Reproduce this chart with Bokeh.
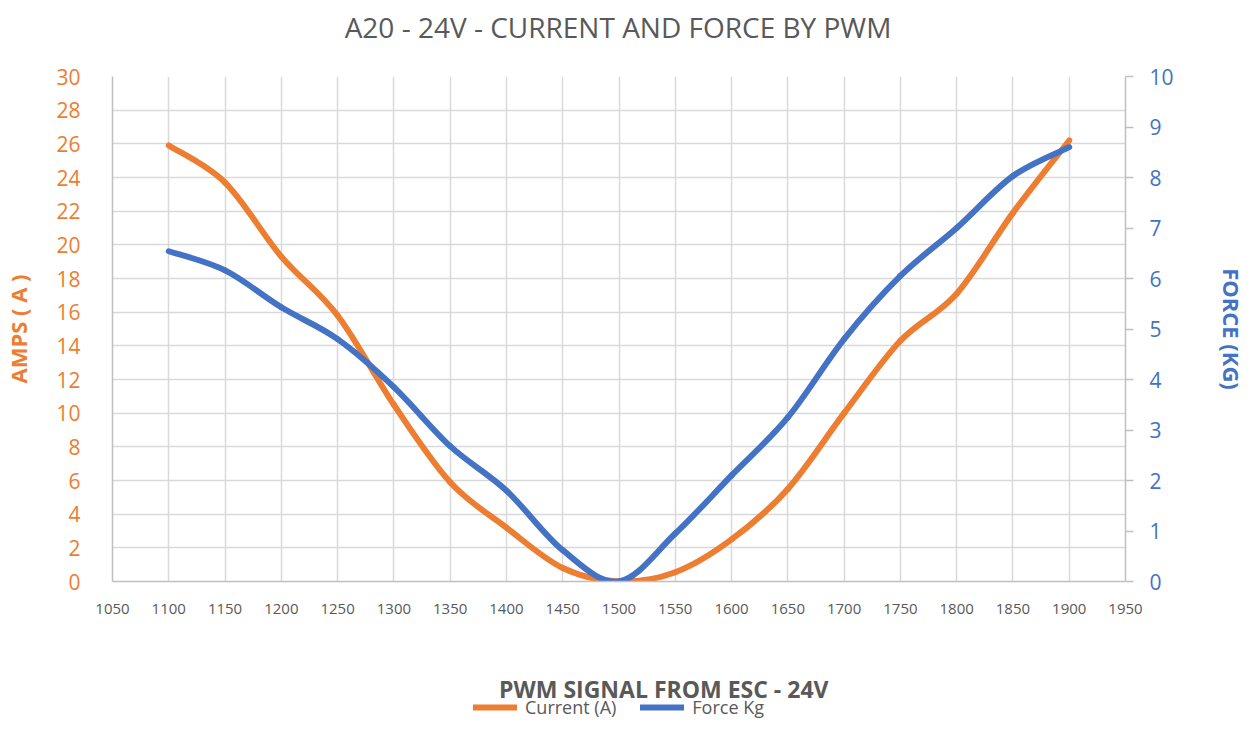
from bokeh.plotting import figure
from bokeh.layouts import column
from bokeh.models import (Range1d, LinearAxis, FixedTicker, Legend, LegendItem,
                          ColumnDataSource, Label)
from bokeh.embed import file_html
from bokeh.resources import INLINE

# PWM signal (µs) and the measured values at each setting
pwm = [1100, 1150, 1200, 1250, 1300, 1350, 1400, 1450, 1500,
       1550, 1600, 1650, 1700, 1750, 1800, 1850, 1900]
current_a = [25.9, 23.7, 19.3, 15.8, 10.5, 5.9, 3.2, 0.8, 0.0,
             0.55, 2.5, 5.5, 10.0, 14.3, 17.1, 21.9, 26.2]
force_kg = [6.54, 6.16, 5.43, 4.8, 3.85, 2.68, 1.8, 0.62, 0.0,
            0.95, 2.1, 3.25, 4.8, 6.05, 7.0, 8.03, 8.6]

x_ticks = list(range(1050, 2000, 50))
amp_ticks = list(range(0, 31, 2))
force_ticks = list(range(0, 11))

ORANGE = "#ED7D31"
BLUE = "#4472C4"
GREY = "#595959"
AXIS_GREY = "#BFBFBF"
FONT = "Open Sans"

W = 1250
LEFT, RIGHT = 107, 125          # side margins shared by every strip


def smooth_segments(xs, ys):
    """Cubic Bezier segments through every point (Catmull-Rom style smoothing)."""
    n = len(xs)
    seg = dict(x0=[], y0=[], x1=[], y1=[], cx0=[], cy0=[], cx1=[], cy1=[])
    for i in range(n - 1):
        ip = max(i - 1, 0)
        inn = min(i + 2, n - 1)
        seg["x0"].append(xs[i]); seg["y0"].append(ys[i])
        seg["x1"].append(xs[i + 1]); seg["y1"].append(ys[i + 1])
        seg["cx0"].append(xs[i] + (xs[i + 1] - xs[ip]) / 6.0)
        seg["cy0"].append(ys[i] + (ys[i + 1] - ys[ip]) / 6.0)
        seg["cx1"].append(xs[i + 1] - (xs[inn] - xs[i]) / 6.0)
        seg["cy1"].append(ys[i + 1] - (ys[inn] - ys[i]) / 6.0)
    return ColumnDataSource(seg)


def strip(height):
    """Blank full-width strip whose data units are page pixels (y downwards)."""
    s = figure(width=W, height=height, output_backend="svg", toolbar_location=None,
               x_range=Range1d(LEFT, W - RIGHT), y_range=Range1d(height, 0),
               min_border_left=LEFT, min_border_right=RIGHT,
               min_border_top=0, min_border_bottom=0,
               x_axis_location=None, y_axis_location=None)
    s.outline_line_color = None
    s.xgrid.visible = False
    s.ygrid.visible = False
    return s


cur_src = smooth_segments(pwm, current_a)
force_src = smooth_segments(pwm, force_kg)
bez = dict(x0="x0", y0="y0", x1="x1", y1="y1", cx0="cx0", cy0="cy0",
           cx1="cx1", cy1="cy1", line_width=6, line_cap="round")

# ---------------------------------------------------------------- title strip
head = strip(50)
head.add_layout(Label(x=615, y=26, text="A20 - 24V - CURRENT AND FORCE BY PWM",
                      text_font=FONT, text_font_size="28px", text_color=GREY,
                      text_align="center", text_baseline="middle"))

# ---------------------------------------------------------------- main chart
p = figure(width=W, height=619, output_backend="svg", toolbar_location=None,
           x_range=Range1d(1050, 1950), y_range=Range1d(0, 30),
           min_border_left=LEFT, min_border_right=RIGHT,
           min_border_top=26, min_border_bottom=88,
           y_axis_location=None, x_axis_location=None)
p.extra_y_ranges = {"force": Range1d(0, 10)}
p.outline_line_color = None
p.background_fill_color = "white"
p.border_fill_color = "white"

xaxis = LinearAxis(ticker=FixedTicker(ticks=x_ticks),
                   major_label_text_font=FONT, major_label_text_font_size="15px",
                   major_label_text_color=GREY, major_label_standoff=16,
                   axis_line_color=AXIS_GREY, axis_line_width=1.5,
                   major_tick_line_color=None, minor_tick_line_color=None)
p.add_layout(xaxis, "below")

laxis = LinearAxis(ticker=FixedTicker(ticks=amp_ticks),
                   axis_label="AMPS ( A )",
                   axis_label_text_font=FONT, axis_label_text_font_size="22px",
                   axis_label_text_font_style="bold", axis_label_text_color=ORANGE,
                   axis_label_standoff=20,
                   major_label_text_font=FONT, major_label_text_font_size="21px",
                   major_label_text_color=ORANGE, major_label_standoff=26,
                   axis_line_color=AXIS_GREY, axis_line_width=1.5,
                   major_tick_line_color=None, minor_tick_line_color=None)
p.add_layout(laxis, "left")

raxis = LinearAxis(y_range_name="force", ticker=FixedTicker(ticks=force_ticks),
                   axis_label="FORCE (KG)",
                   axis_label_text_font=FONT, axis_label_text_font_size="22px",
                   axis_label_text_font_style="bold", axis_label_text_color=BLUE,
                   axis_label_standoff=40,
                   major_label_text_font=FONT, major_label_text_font_size="21px",
                   major_label_text_color=BLUE, major_label_standoff=16,
                   axis_line_color=AXIS_GREY, axis_line_width=1.5,
                   major_tick_line_color=AXIS_GREY, major_tick_line_width=1.5,
                   major_tick_out=8, major_tick_in=0,
                   minor_tick_line_color=None)
p.add_layout(raxis, "right")

p.xgrid.ticker = FixedTicker(ticks=x_ticks)
p.ygrid.ticker = FixedTicker(ticks=amp_ticks)
p.xgrid.grid_line_color = "#D9D9D9"
p.ygrid.grid_line_color = "#D9D9D9"
p.xgrid.grid_line_width = 1.5
p.ygrid.grid_line_width = 1.5

p.bezier(source=cur_src, line_color=ORANGE, **bez)
p.bezier(source=force_src, line_color=BLUE, y_range_name="force", **bez)

# ------------------------------------------- axis title and legend strip
foot = strip(60)
# series are re-plotted on an off-screen range so the legend can describe them
foot.extra_x_ranges = {"series": Range1d(0, 1)}
foot.extra_y_ranges = {"series": Range1d(0, 1)}
leg_cur = foot.bezier(source=cur_src, line_color=ORANGE, x_range_name="series",
                      y_range_name="series", **bez)
leg_force = foot.bezier(source=force_src, line_color=BLUE, x_range_name="series",
                        y_range_name="series", **bez)

foot.add_layout(Label(x=661, y=19, text="PWM SIGNAL FROM ESC - 24V",
                      text_font=FONT, text_font_size="23px",
                      text_font_style="bold", text_color=GREY,
                      text_align="center", text_baseline="middle"))

legend = Legend(items=[LegendItem(label="Current (A)", renderers=[leg_cur]),
                       LegendItem(label="Force Kg", renderers=[leg_force])],
                orientation="horizontal", location=(468 - LEFT, 10),
                label_text_font=FONT, label_text_font_size="18px",
                label_text_color=GREY, glyph_width=44, glyph_height=18,
                label_standoff=8, spacing=24, padding=0, margin=0,
                border_line_color=None, background_fill_alpha=0)
foot.add_layout(legend, "center")

open("out.html", "w").write(file_html(column(head, p, foot, spacing=0), INLINE))
